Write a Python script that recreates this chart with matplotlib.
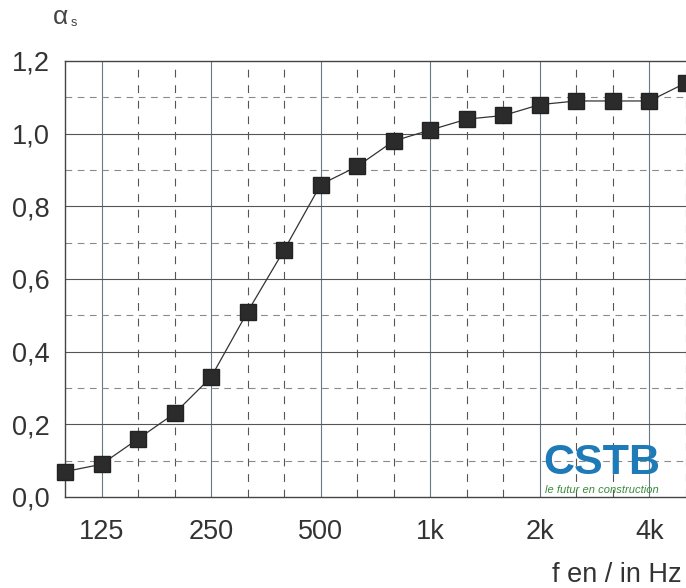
import matplotlib
matplotlib.use("Agg")
import matplotlib.pyplot as plt
import numpy as np

plt.rcParams['font.family'] = ['Liberation Sans', 'DejaVu Sans']

freqs = ["100", "125", "160", "200", "250", "315", "400", "500", "630", "800",
         "1k", "1.25k", "1.6k", "2k", "2.5k", "3.15k", "4k", "5k"]
alpha = [0.07, 0.09, 0.16, 0.23, 0.33, 0.51, 0.68, 0.86, 0.91, 0.98,
         1.01, 1.04, 1.05, 1.08, 1.09, 1.09, 1.09, 1.14]
tick_labels = ["125", "250", "500", "1k", "2k", "4k"]
y_ticks = [0.0, 0.2, 0.4, 0.6, 0.8, 1.0, 1.2]
y_tick_labels = ["0,0", "0,2", "0,4", "0,6", "0,8", "1,0", "1,2"]

x = np.arange(len(freqs))
major_idx = [freqs.index(t) for t in tick_labels]

fig = plt.figure(figsize=(6.86, 5.88), dpi=100)
ax = fig.add_axes([65/686, 1-497/588, 1-65/686, (497-61)/588])

ax.set_xlim(0, len(freqs)-1)
ax.set_ylim(0, 1.2)

# grid
for i in x:
    if i in major_idx:
        ax.axvline(i, color='#667a84', lw=0.8, zorder=1)
    elif i != 0:
        ax.axvline(i, color='#555555', lw=0.8, ls=(0, (7, 7)), zorder=1)
for yv in np.arange(0.1, 1.2, 0.1):
    k = int(round(yv*10))
    if k % 2 == 0:
        ax.axhline(yv, color='#555555', lw=0.8, zorder=1)
    else:
        ax.axhline(yv, color='#8a8a8a', lw=0.8, ls=(0, (6, 5)), zorder=1)

ax.plot(x, alpha, color='#333333', lw=0.9, marker='s', markersize=11.5,
        markerfacecolor='#2b2b2b', markeredgecolor='#222222', zorder=3, clip_on=False)

ax.set_xticks(major_idx)
ax.set_xticklabels(tick_labels, fontsize=19.5, color='#333333')
ax.set_yticks(y_ticks)
ax.set_yticklabels(y_tick_labels, fontsize=19.5, color='#333333')
ax.tick_params(axis='y', length=0, pad=11)
ax.tick_params(axis='x', length=0, pad=16)

for s in ['left', 'bottom', 'top']:
    ax.spines[s].set_color('#444444')
    ax.spines[s].set_linewidth(1.0)
ax.spines['right'].set_visible(False)

fig.text(53/686, 1-17/588, 'α', fontsize=19, color='#444444', va='center', ha='left')
fig.text(71/686, 1-23/588, 's', fontsize=9, color='#444444', va='center', ha='left')
fig.text(682/686, 1-575/588, 'f en / in Hz', fontsize=19.5, color='#333333', va='center', ha='right')

# logo
fig.text(602/686, 1-463/588, 'CSTB', fontsize=31, fontweight='bold', color='#1f7ab8',
         family=['Liberation Sans Narrow', 'Liberation Sans'],
         va='center', ha='center', zorder=5)
fig.text(602/686, 1-490/588, 'le futur en construction', fontsize=8, style='italic',
         color='#3a8a3a', family=['Liberation Sans Narrow', 'Liberation Sans'],
         va='center', ha='center', zorder=5)

fig.savefig('out.png', dpi=100, facecolor='white')
